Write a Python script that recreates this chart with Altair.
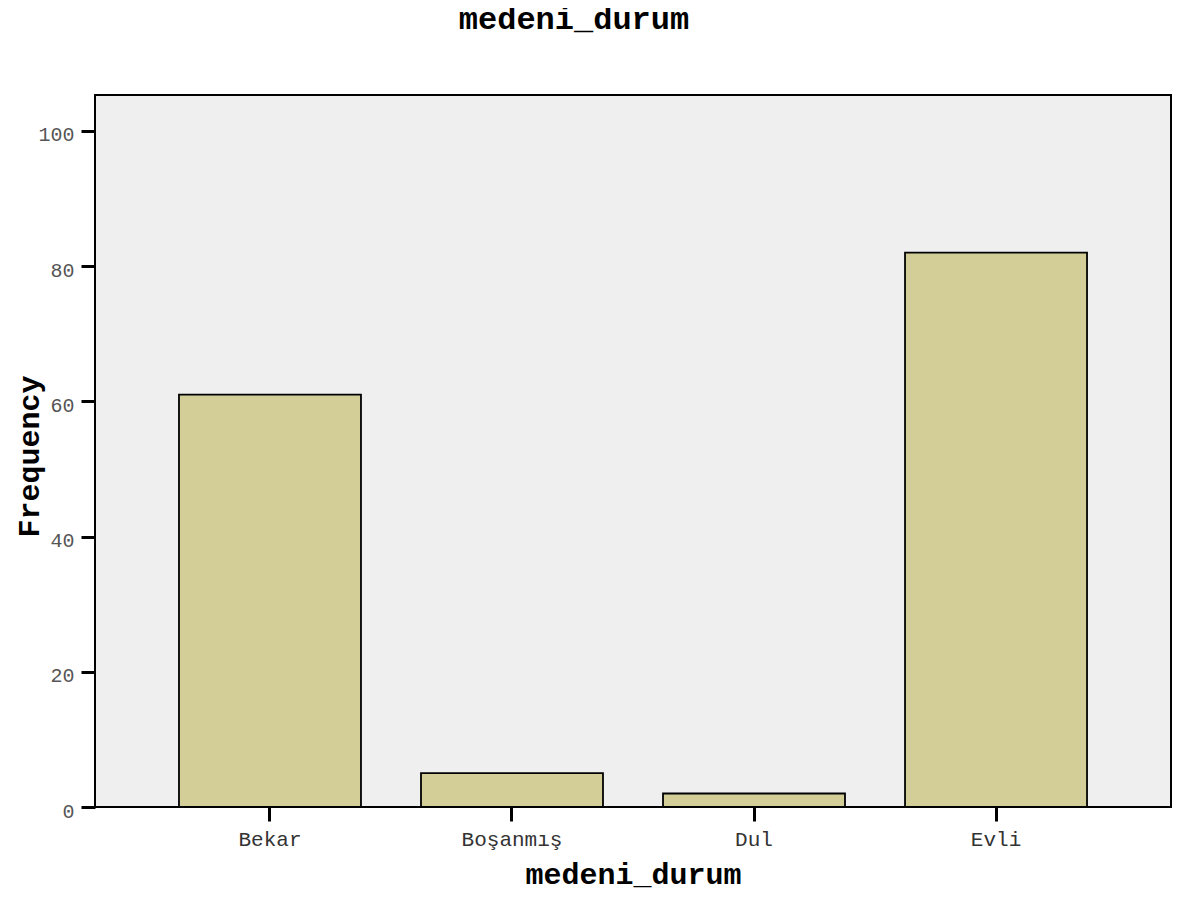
import altair as alt
import pandas as pd

categories = ["Bekar", "Boşanmış", "Dul", "Evli"]
frequencies = [61, 5, 2, 82]
y_ticks = [0, 20, 40, 60, 80, 100]

df = pd.DataFrame({"medeni_durum": categories, "Frequency": frequencies})

MONO = "Liberation Mono"

chart = (
    alt.Chart(df)
    .mark_bar(fill="#d3ce97", stroke="#000000", strokeWidth=1.8)
    .encode(
        x=alt.X(
            "medeni_durum:N",
            sort=categories,
            scale=alt.Scale(paddingInner=0.248, paddingOuter=0.347),
            axis=alt.Axis(
                title="medeni_durum",
                labelAngle=0,
                labelFont=MONO,
                labelFontSize=21,
                labelColor="#333333",
                labelBaseline="alphabetic",
                labelPadding=24,
                tickSize=14,
                tickWidth=3,
                tickColor="#000000",
                domain=False,
                titleFont=MONO,
                titleFontSize=30,
                titleFontWeight="bold",
                titleColor="#000000",
                titleBaseline="alphabetic",
                titleY=76,
            ),
        ),
        y=alt.Y(
            "Frequency:Q",
            scale=alt.Scale(domain=[0, 105.3], nice=False, zero=True),
            axis=alt.Axis(
                title="Frequency",
                values=y_ticks,
                grid=False,
                labelFont=MONO,
                labelFontSize=20,
                labelColor="#555555",
                labelPadding=7,
                labelOffset=4,
                labelBaseline="middle",
                tickSize=14,
                tickWidth=3,
                tickColor="#000000",
                domain=False,
                titleFont=MONO,
                titleFontSize=30,
                titleFontWeight="bold",
                titleColor="#000000",
                titleAngle=270,
                titleBaseline="alphabetic",
                titleX=-57,
                titleY=361,
            ),
        ),
    )
    .properties(
        width=1076,
        height=712,
        background="#ffffff",
        title=alt.TitleParams(
            "medeni_durum",
            font=MONO,
            fontSize=32,
            fontWeight="bold",
            color="#000000",
            anchor="middle",
            frame="group",
            baseline="alphabetic",
            offset=34,
            dx=-59,
        ),
        autosize=alt.AutoSizeParams(type="none"),
        padding={"left": 87, "top": 87, "right": 2, "bottom": 86},
    )
    .configure_view(fill="#efefef", stroke="#000000", strokeWidth=2)
)

chart.save("out.html", embed_options={"renderer": "svg", "actions": False})
